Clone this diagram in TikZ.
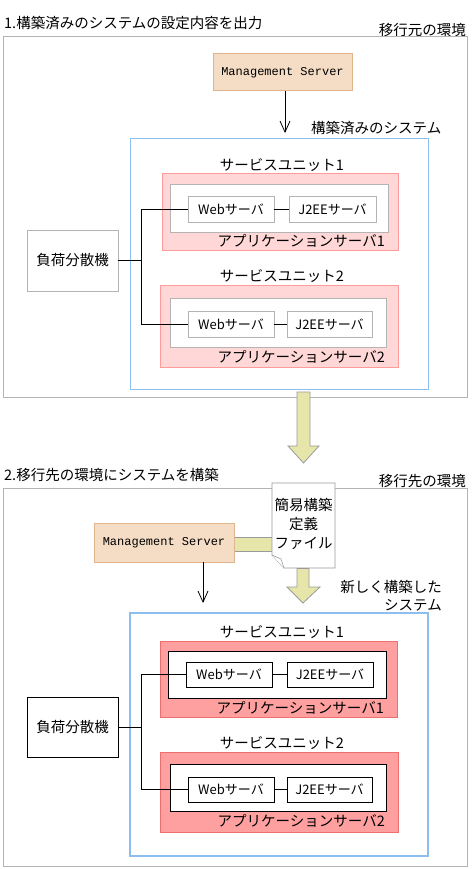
\documentclass[tikz,border=0pt]{standalone}
\usepackage{fontspec}
\setmainfont{Noto Sans CJK JP}
\newfontfamily\msfont{Liberation Mono}
\usetikzlibrary{arrows.meta}
\definecolor{gb}{HTML}{B4B4B4}
\definecolor{peach}{HTML}{F5DCC5}
\definecolor{peachb}{HTML}{E0B48C}
\definecolor{sysblue}{HTML}{8CBEF0}
\definecolor{pinkl}{HTML}{FFD7D7}
\definecolor{pinklb}{HTML}{FF9B9B}
\definecolor{pinkd}{HTML}{FFA0A0}
\definecolor{pinkdb}{HTML}{F06E6E}
\definecolor{arry}{HTML}{E6E6AA}
\definecolor{arrb}{HTML}{9A9A9A}
\tikzset{
  rbox/.style={inner sep=0pt, outer sep=0pt, line width=1pt},
  graybox/.style={rbox, draw=gb, fill=white},
  blackbox/.style={rbox, draw=black, fill=white},
  msbox/.style={rbox, draw=peachb, fill=peach, font=\msfont\fontsize{12}{14}\selectfont},
  lpink/.style={rbox, draw=pinklb, fill=pinkl},
  dpink/.style={rbox, draw=pinkdb, fill=pinkd},
  txt/.style={inner sep=0pt, font=\fontsize{14.5}{16}\selectfont},
  stxt/.style={inner sep=0pt, font=\fontsize{13}{15}\selectfont},
  conn/.style={line width=1pt, draw=black},
  thinarrow/.style={line width=0.8pt, -{Straight Barb[length=11pt,width=10pt,line width=0.8pt]}},
  bigarrow/.style={fill=arry, draw=arrb, line width=0.8pt},
}
\begin{document}
\begin{tikzpicture}[x=1pt,y=-1pt]
\useasboundingbox (0,0) rectangle (472,869);
% ---------------- Section 1 ----------------
\node[txt, anchor=west] (t1) at (4,23) {1.構築済みのシステムの設定内容を出力};
\node[txt, anchor=east] (env1) at (466,30) {移行元の環境};
\node[graybox, minimum width=464, minimum height=360] (outer1) at (235,217) {};
\node[msbox, minimum width=139, minimum height=37] (ms1) at (282.5,72.5) {Management Server};
\node[rbox, draw=sysblue, fill=white, minimum width=298, minimum height=250] (sys1) at (279,264) {};
\node[txt, anchor=west] (sys1l) at (311,128) {構築済みのシステム};
\draw[thinarrow] (ms1.south -| 285,0) -- (285,133);
% service unit 1
\node[txt] (su1a) at (282,165) {サービスユニット1};
\node[lpink, minimum width=236, minimum height=76] (p1a) at (280,212) {};
\node[graybox, minimum width=218, minimum height=48] (w1a) at (279,208) {};
\node[graybox, minimum width=86, minimum height=26, stxt] (web1a) at (231,209) {Webサーバ};
\node[graybox, minimum width=87, minimum height=26, stxt] (j1a) at (332.5,209) {J2EEサーバ};
\node[txt, anchor=east] (ap1a) at (385,241) {アプリケーションサーバ1};
% service unit 2
\node[txt] (su1b) at (282,276) {サービスユニット2};
\node[lpink, minimum width=238, minimum height=82] (p1b) at (279,326) {};
\node[graybox, minimum width=216, minimum height=49] (w1b) at (278,322.5) {};
\node[graybox, minimum width=86, minimum height=26, stxt] (web1b) at (231,324) {Webサーバ};
\node[graybox, minimum width=85, minimum height=26, stxt] (j1b) at (329.5,324) {J2EEサーバ};
\node[txt, anchor=east] (ap1b) at (385,357) {アプリケーションサーバ2};
% load balancer
\node[graybox, minimum width=91, minimum height=61, txt] (lb1) at (72.5,260.5) {負荷分散機};
\coordinate (br1) at (141,0);
\draw[conn] (web1a.west) -| (br1 |- web1b.west) -- (web1b.west);
\draw[conn] (lb1.east) -- (lb1.east -| br1);
\draw[conn] (web1a.east) -- (j1a.west);
\draw[conn] (web1b.east) -- (j1b.west);
% big arrow
\draw[bigarrow] (297,392) -- (310,392) -- (310,446) -- (319,446) -- (303.5,463) -- (288,446) -- (297,446) -- cycle;
% ---------------- Section 2 ----------------
\node[txt, anchor=west] (t2) at (4,475) {2.移行先の環境にシステムを構築};
\node[txt, anchor=east] (env2) at (466,481) {移行先の環境};
\node[graybox, minimum width=464, minimum height=378] (outer2) at (235,677) {};
% yellow connector between MS and document
\draw[fill=arry, draw=arrb, line width=0.8pt] (230,537) rectangle (276,551);
\node[msbox, minimum width=140, minimum height=39] (ms2) at (164,542.5) {Management Server};
% document
\draw[draw=arrb, fill=white, line width=0.8pt] (272,483) -- (335,483) -- (335,568) -- (284,568) -- (272,555) -- cycle;
\draw[draw=arrb, line width=0.6pt, fill=white] (272,555) -- (281,559) -- (284,568);
\node[inner sep=0pt, align=center, font=\fontsize{14.5}{19}\selectfont] (doc) at (303.5,524) {簡易構築\\定義\\ファイル};
% arrow below doc
\draw[bigarrow] (297,568.5) -- (309,568.5) -- (309,587) -- (320,587) -- (303,603) -- (287,587) -- (297,587) -- cycle;
\node[txt, anchor=east] (newl1) at (442,587) {新しく構築した};
\node[txt, anchor=east] (newl2) at (442,605) {システム};
\draw[thinarrow] (ms2.south -| 203,0) -- (203,603);
% system 2
\node[rbox, draw=sysblue, line width=2pt, fill=white, minimum width=298, minimum height=243] (sys2) at (279,734.5) {};
\node[txt] (su2a) at (282,632) {サービスユニット1};
\node[dpink, minimum width=237, minimum height=76] (p2a) at (278.5,679) {};
\node[blackbox, minimum width=218, minimum height=47] (w2a) at (277,674.5) {};
\node[blackbox, minimum width=86, minimum height=25, stxt] (web2a) at (229,674.5) {Webサーバ};
\node[blackbox, minimum width=86, minimum height=25, stxt] (j2a) at (330,674.5) {J2EEサーバ};
\node[txt, anchor=east] (ap2a) at (384,708) {アプリケーションサーバ1};
\node[txt] (su2b) at (282,743) {サービスユニット2};
\node[dpink, minimum width=238, minimum height=80] (p2b) at (279,792) {};
\node[blackbox, minimum width=216, minimum height=47] (w2b) at (278,787.5) {};
\node[blackbox, minimum width=86, minimum height=25, stxt] (web2b) at (231,789.5) {Webサーバ};
\node[blackbox, minimum width=85, minimum height=25, stxt] (j2b) at (329.5,789.5) {J2EEサーバ};
\node[txt, anchor=east] (ap2b) at (385,821) {アプリケーションサーバ2};
\node[blackbox, minimum width=91, minimum height=60, txt] (lb2) at (72.5,727) {負荷分散機};
\coordinate (br2) at (141,0);
\draw[conn] (web2a.west) -| (br2 |- web2b.west) -- (web2b.west);
\draw[conn] (lb2.east) -- (lb2.east -| br2);
\draw[conn] (web2a.east) -- (j2a.west);
\draw[conn] (web2b.east) -- (j2b.west);
\end{tikzpicture}
\end{document}
